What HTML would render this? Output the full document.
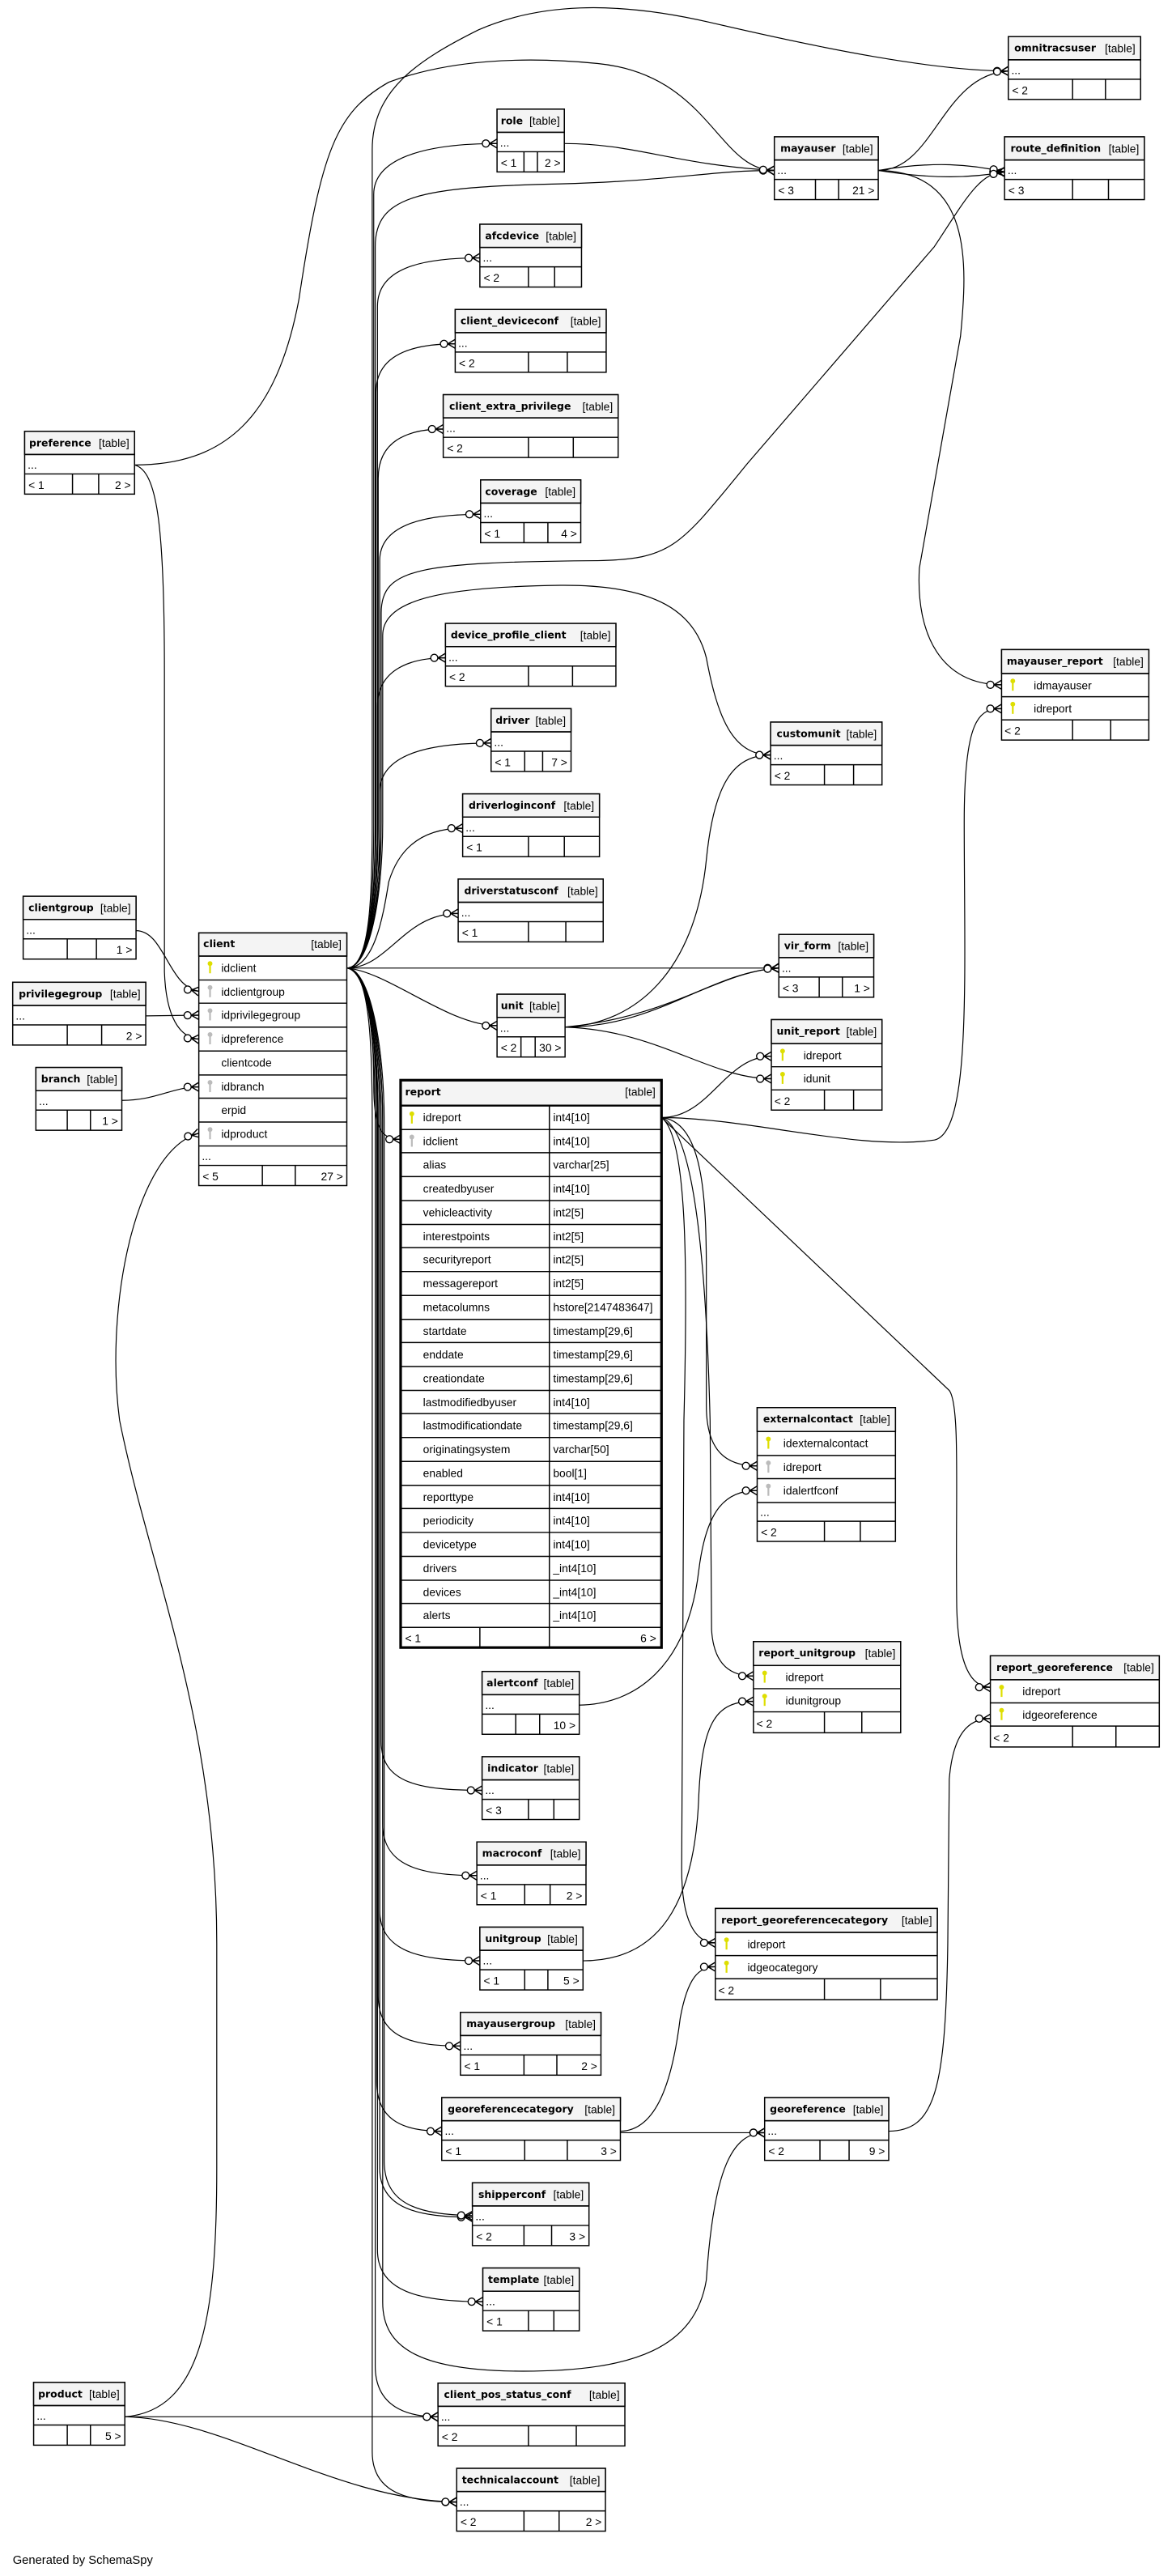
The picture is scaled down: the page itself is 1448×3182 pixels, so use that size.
<!DOCTYPE html>
<html><head><meta charset="utf-8"><style>
html,body{margin:0;padding:0;background:#fff}
svg{display:block}
.t{fill:#fff;stroke:#000;stroke-width:1.6}
.tk{fill:#fff;stroke:#000;stroke-width:3.5}
.h{fill:#f4f4f4;stroke:#000;stroke-width:1.6}
.l{stroke:#000;stroke-width:1.6;fill:none}
.c path{fill:none;stroke:#000;stroke-width:1.3}
text{font-family:"Liberation Sans",sans-serif;font-size:15px;fill:#000}
.n{font-family:"DejaVu Sans","Liberation Sans",sans-serif;font-weight:bold;font-size:13.5px}
.e{text-anchor:end}
</style></head><body>
<svg width="1448" height="3182" viewBox="0 0 1568 3446" preserveAspectRatio="none" xmlns="http://www.w3.org/2000/svg">
<defs>
<marker id="m" markerUnits="userSpaceOnUse" markerWidth="30" markerHeight="20" viewBox="-22 -10 24 20" refX="0" refY="0" orient="auto">
<path d="M-10,0 L0,-6 M-10,0 L0,0 M-10,0 L0,6" stroke="#000" stroke-width="1.6" fill="none"/>
<circle cx="-15" cy="0" r="4.8" fill="#fff" stroke="#000" stroke-width="1.5"/>
</marker>
<g id="kp"><circle cx="0" cy="-5" r="3.2" fill="#dede00"/><rect x="-1.2" y="-3" width="2.4" height="11" fill="#dede00"/></g>
<g id="kf"><circle cx="0" cy="-5" r="3.2" fill="#bbb"/><rect x="-1.2" y="-3" width="2.4" height="11" fill="#bbb"/></g>
</defs>

<g class="c" marker-end="url(#m)">
<!-- client trunk upward -->
<path d="M464,1295 C495,1295 498,1200 498,1100 L498,200 C498,120 560,80 640,40 C720,5 820,0 950,30 C1100,65 1250,95 1349,95"/>
<path d="M464,1295 C495,1295 500,1200 500,1100 L500,260 C500,215 560,192 665,192"/>
<path d="M464,1295 C495,1295 502,1200 502,1100 L502,330 C502,262 560,250 750,246 C900,242 950,228 1036,228"/>
<path d="M464,1295 C495,1295 505,1200 505,1100 L505,410 C505,360 560,345 642,345"/>
<path d="M464,1295 C495,1295 503,1200 503,1100 L503,525 C503,475 550,460 609,460"/>
<path d="M464,1295 C495,1295 506,1200 506,1100 L506,640 C506,590 545,574 593,574"/>
<path d="M464,1295 C495,1295 508,1200 508,1100 L508,750 C508,705 560,688 643,688"/>
<path d="M464,1295 C495,1295 510,1200 510,1100 L510,820 C510,760 560,752 800,750 C900,748 910,730 1000,620 L1250,330 C1290,270 1310,230 1344,230"/>
<path d="M464,1295 C495,1295 512,1200 512,1100 L512,850 C512,800 600,785 750,783 C880,782 930,820 945,880 C960,960 980,1010 1031,1010"/>
<path d="M464,1295 C495,1295 505,1200 505,1100 L505,945 C505,895 550,880 596,880"/>
<path d="M464,1295 C495,1295 508,1200 508,1150 L508,1060 C508,1010 570,994 657,994"/>
<path d="M464,1295 C500,1295 512,1230 520,1180 C535,1130 570,1108 619,1108"/>
<path d="M464,1295 C520,1295 540,1222 613,1222"/>
<path d="M464,1295 L1042,1295"/>
<path d="M464,1295 C520,1300 600,1372 665,1372"/>
<path d="M464,1295 C495,1300 500,1400 500,1450 C500,1510 510,1524 536,1524"/>
<!-- client trunk downward -->
<path d="M464,1295 C495,1295 510,1400 510,1500 L510,2330 C510,2385 560,2395 645,2395"/>
<path d="M464,1295 C495,1295 512,1400 512,1500 L512,2440 C512,2495 560,2509 638,2509"/>
<path d="M464,1295 C495,1295 508,1400 508,1500 L508,2555 C508,2610 560,2623 642,2623"/>
<path d="M464,1295 C495,1295 506,1400 506,1500 L506,2670 C506,2725 550,2737 616,2737"/>
<path d="M464,1295 C495,1295 504,1400 504,1500 L504,2785 C504,2840 545,2851 591,2851"/>
<path d="M464,1295 C495,1295 508,1400 508,1500 L508,2900 C508,2955 560,2966 632,2966"/>
<path d="M464,1295 C495,1295 514,1400 514,1500 L514,2890 C514,2950 560,2962 632,2964"/>
<path d="M464,1295 C495,1295 505,1400 505,1500 L505,3010 C505,3065 560,3079 646,3079"/>
<path d="M464,1295 C495,1295 512,1400 512,1500 L512,3080 C512,3140 560,3172 700,3172 C850,3172 930,3140 945,3050 C955,2900 980,2853 1023,2853"/>
<path d="M464,1295 C495,1295 502,1400 502,1500 L502,3165 C502,3220 545,3233 586,3233"/>
<path d="M464,1295 C495,1295 498,1400 498,1500 L498,3280 C498,3335 545,3347 611,3347"/>
<!-- others -->
<path d="M180,622 C300,622 370,560 400,400 C430,200 450,150 520,110 C600,80 700,75 800,85 C950,100 960,228 1036,228"/>
<path d="M180,622 C210,630 220,700 220,900 L220,1300 C222,1360 240,1388 266,1390"/>
<path d="M755,192 C850,192 900,220 1036,228"/>
<path d="M1175,228 C1250,228 1260,100 1349,95"/>
<path d="M1175,228 C1250,215 1300,220 1344,230"/>
<path d="M1175,228 C1250,240 1300,238 1344,230"/>
<path d="M1175,228 C1300,230 1295,350 1285,450 L1230,760 C1225,850 1260,916 1340,916"/>
<path d="M756,1374 C850,1370 930,1300 945,1150 C955,1050 980,1010 1031,1010"/>
<path d="M756,1374 C880,1374 950,1300 1042,1295"/>
<path d="M756,1374 C900,1360 960,1300 1042,1295"/>
<path d="M756,1374 C880,1378 950,1443 1032,1443"/>
<path d="M885,1495 C950,1495 970,1413 1032,1413"/>
<path d="M885,1495 C1000,1495 1150,1540 1250,1525 C1300,1515 1290,1300 1290,1100 C1290,960 1310,948 1340,948"/>
<path d="M885,1495 C940,1500 945,1600 945,1700 L945,1880 C945,1940 970,1961 1013,1961"/>
<path d="M885,1495 C930,1510 945,1700 950,1900 L952,2180 C955,2230 980,2242 1008,2242"/>
<path d="M885,1495 C920,1520 920,1700 915,1900 L912,2500 C912,2570 930,2599 957,2599"/>
<path d="M885,1495 L1270,1860 C1285,1880 1278,2000 1280,2150 C1282,2230 1300,2257 1325,2257"/>
<path d="M775,2281 C850,2280 920,2230 935,2100 C945,2020 970,1994 1013,1994"/>
<path d="M780,2623 C880,2623 930,2550 935,2400 C940,2300 960,2276 1008,2276"/>
<path d="M830,2851 C880,2850 900,2780 910,2700 C920,2645 935,2631 957,2631"/>
<path d="M830,2853 L1023,2853"/>
<path d="M1189,2851 C1250,2850 1265,2800 1268,2600 L1270,2380 C1275,2320 1295,2299 1325,2299"/>
<path d="M167,3233 C270,3225 290,3100 290,2900 L290,2600 C290,2300 200,2100 160,1900 C140,1750 180,1540 266,1516"/>
<path d="M167,3233 L586,3233"/>
<path d="M167,3233 C300,3235 450,3345 611,3347"/>
<path d="M182,1245 C220,1245 225,1320 266,1326"/>
<path d="M195,1359 L266,1358"/>
<path d="M163,1472 C210,1472 230,1454 266,1454"/>
</g>

<!-- small tables -->
<g>
<rect class="t" x="1349" y="49" width="177" height="84"/><rect class="h" x="1349" y="49" width="177" height="31"/><path class="l" d="M1349,80H1526M1349,106H1526M1435,106V133M1479,106V133"/><text class="n" x="1357" y="69">omnitracsuser</text><text class="e" x="1519" y="70">[table]</text><text x="1353" y="99">...</text><text x="1354" y="126">&lt; 2</text>

<rect class="t" x="1036" y="183" width="139" height="84"/><rect class="h" x="1036" y="183" width="139" height="31"/><path class="l" d="M1036,214H1175M1036,240H1175M1091,240V267M1122,240V267"/><text class="n" x="1044" y="203">mayauser</text><text class="e" x="1168" y="204">[table]</text><text x="1040" y="233">...</text><text x="1041" y="260">&lt; 3</text><text class="e" x="1170" y="260">21 &gt;</text>

<rect class="t" x="1344" y="183" width="187" height="84"/><rect class="h" x="1344" y="183" width="187" height="31"/><path class="l" d="M1344,214H1531M1344,240H1531M1435,240V267M1483,240V267"/><text class="n" x="1352" y="203">route_definition</text><text class="e" x="1524" y="204">[table]</text><text x="1348" y="233">...</text><text x="1349" y="260">&lt; 3</text>

<rect class="t" x="665" y="146" width="90" height="84"/><rect class="h" x="665" y="146" width="90" height="31"/><path class="l" d="M665,177H755M665,203H755M701,203V230M719,203V230"/><text class="n" x="670" y="166">role</text><text class="e" x="749" y="167">[table]</text><text x="669" y="196">...</text><text x="670" y="223">&lt; 1</text><text class="e" x="750" y="223">2 &gt;</text>

<rect class="t" x="642" y="300" width="136" height="84"/><rect class="h" x="642" y="300" width="136" height="31"/><path class="l" d="M642,331H778M642,357H778M707,357V384M742,357V384"/><text class="n" x="649" y="320">afcdevice</text><text class="e" x="771" y="321">[table]</text><text x="646" y="350">...</text><text x="647" y="377">&lt; 2</text>

<rect class="t" x="609" y="414" width="202" height="84"/><rect class="h" x="609" y="414" width="202" height="31"/><path class="l" d="M609,445H811M609,471H811M707,471V498M759,471V498"/><text class="n" x="616" y="434">client_deviceconf</text><text class="e" x="804" y="435">[table]</text><text x="613" y="464">...</text><text x="614" y="491">&lt; 2</text>

<rect class="t" x="593" y="528" width="234" height="84"/><rect class="h" x="593" y="528" width="234" height="31"/><path class="l" d="M593,559H827M593,585H827M707,585V612M767,585V612"/><text class="n" x="601" y="548">client_extra_privilege</text><text class="e" x="820" y="549">[table]</text><text x="597" y="578">...</text><text x="598" y="605">&lt; 2</text>

<rect class="t" x="643" y="642" width="134" height="84"/><rect class="h" x="643" y="642" width="134" height="31"/><path class="l" d="M643,673H777M643,699H777M701,699V726M733,699V726"/><text class="n" x="649" y="662">coverage</text><text class="e" x="770" y="663">[table]</text><text x="647" y="692">...</text><text x="648" y="719">&lt; 1</text><text class="e" x="772" y="719">4 &gt;</text>

<rect class="t" x="596" y="834" width="228" height="84"/><rect class="h" x="596" y="834" width="228" height="31"/><path class="l" d="M596,865H824M596,891H824M707,891V918M766,891V918"/><text class="n" x="603" y="854">device_profile_client</text><text class="e" x="817" y="855">[table]</text><text x="600" y="884">...</text><text x="601" y="911">&lt; 2</text>

<rect class="t" x="657" y="948" width="107" height="84"/><rect class="h" x="657" y="948" width="107" height="31"/><path class="l" d="M657,979H764M657,1005H764M702,1005V1032M726,1005V1032"/><text class="n" x="663" y="968">driver</text><text class="e" x="757" y="969">[table]</text><text x="661" y="998">...</text><text x="662" y="1025">&lt; 1</text><text class="e" x="759" y="1025">7 &gt;</text>

<rect class="t" x="619" y="1062" width="183" height="84"/><rect class="h" x="619" y="1062" width="183" height="31"/><path class="l" d="M619,1093H802M619,1119H802M707,1119V1146M755,1119V1146"/><text class="n" x="627" y="1082">driverloginconf</text><text class="e" x="795" y="1083">[table]</text><text x="623" y="1112">...</text><text x="624" y="1139">&lt; 1</text>

<rect class="t" x="613" y="1176" width="194" height="84"/><rect class="h" x="613" y="1176" width="194" height="31"/><path class="l" d="M613,1207H807M613,1233H807M707,1233V1260M757,1233V1260"/><text class="n" x="621" y="1196">driverstatusconf</text><text class="e" x="800" y="1197">[table]</text><text x="617" y="1226">...</text><text x="618" y="1253">&lt; 1</text>

<rect class="t" x="33" y="577" width="147" height="84"/><rect class="h" x="33" y="577" width="147" height="31"/><path class="l" d="M33,608H180M33,634H180M97,634V661M132,634V661"/><text class="n" x="39" y="597">preference</text><text class="e" x="173" y="598">[table]</text><text x="37" y="627">...</text><text x="38" y="654">&lt; 1</text><text class="e" x="175" y="654">2 &gt;</text>

<rect class="t" x="31" y="1199" width="151" height="84"/><rect class="h" x="31" y="1199" width="151" height="31"/><path class="l" d="M31,1230H182M31,1256H182M90,1256V1283M129,1256V1283"/><text class="n" x="38" y="1219">clientgroup</text><text class="e" x="175" y="1220">[table]</text><text x="35" y="1249">...</text><text class="e" x="177" y="1276">1 &gt;</text>

<rect class="t" x="17" y="1314" width="178" height="84"/><rect class="h" x="17" y="1314" width="178" height="31"/><path class="l" d="M17,1345H195M17,1371H195M90,1371V1398M136,1371V1398"/><text class="n" x="25" y="1334">privilegegroup</text><text class="e" x="188" y="1335">[table]</text><text x="21" y="1364">...</text><text class="e" x="190" y="1391">2 &gt;</text>

<rect class="t" x="48" y="1428" width="115" height="84"/><rect class="h" x="48" y="1428" width="115" height="31"/><path class="l" d="M48,1459H163M48,1485H163M90,1485V1512M121,1485V1512"/><text class="n" x="55" y="1448">branch</text><text class="e" x="157" y="1449">[table]</text><text x="52" y="1478">...</text><text class="e" x="158" y="1505">1 &gt;</text>

<rect class="t" x="1031" y="966" width="149" height="84"/><rect class="h" x="1031" y="966" width="149" height="31"/><path class="l" d="M1031,997H1180M1031,1023H1180M1103,1023V1050M1142,1023V1050"/><text class="n" x="1039" y="986">customunit</text><text class="e" x="1173" y="987">[table]</text><text x="1035" y="1016">...</text><text x="1036" y="1043">&lt; 2</text>

<rect class="t" x="1042" y="1250" width="127" height="84"/><rect class="h" x="1042" y="1250" width="127" height="31"/><path class="l" d="M1042,1281H1169M1042,1307H1169M1096,1307V1334M1127,1307V1334"/><text class="n" x="1049" y="1270">vir_form</text><text class="e" x="1162" y="1271">[table]</text><text x="1046" y="1300">...</text><text x="1047" y="1327">&lt; 3</text><text class="e" x="1164" y="1327">1 &gt;</text>

<rect class="t" x="665" y="1330" width="91" height="84"/><rect class="h" x="665" y="1330" width="91" height="31"/><path class="l" d="M665,1361H756M665,1387H756M697,1387V1414M716,1387V1414"/><text class="n" x="670" y="1350">unit</text><text class="e" x="749" y="1351">[table]</text><text x="669" y="1380">...</text><text x="670" y="1407">&lt; 2</text><text class="e" x="751" y="1407">30 &gt;</text>

<rect class="t" x="645" y="2236" width="130" height="84"/><rect class="h" x="645" y="2236" width="130" height="31"/><path class="l" d="M645,2267H775M645,2293H775M690,2293V2320M722,2293V2320"/><text class="n" x="651" y="2256">alertconf</text><text class="e" x="768" y="2257">[table]</text><text x="649" y="2286">...</text><text class="e" x="770" y="2313">10 &gt;</text>

<rect class="t" x="645" y="2350" width="130" height="84"/><rect class="h" x="645" y="2350" width="130" height="31"/><path class="l" d="M645,2381H775M645,2407H775M707,2407V2434M741,2407V2434"/><text class="n" x="652" y="2370">indicator</text><text class="e" x="768" y="2371">[table]</text><text x="649" y="2400">...</text><text x="650" y="2427">&lt; 3</text>

<rect class="t" x="638" y="2464" width="146" height="84"/><rect class="h" x="638" y="2464" width="146" height="31"/><path class="l" d="M638,2495H784M638,2521H784M702,2521V2548M736,2521V2548"/><text class="n" x="645" y="2484">macroconf</text><text class="e" x="777" y="2485">[table]</text><text x="642" y="2514">...</text><text x="643" y="2541">&lt; 1</text><text class="e" x="779" y="2541">2 &gt;</text>

<rect class="t" x="642" y="2578" width="138" height="84"/><rect class="h" x="642" y="2578" width="138" height="31"/><path class="l" d="M642,2609H780M642,2635H780M702,2635V2662M733,2635V2662"/><text class="n" x="649" y="2598">unitgroup</text><text class="e" x="773" y="2599">[table]</text><text x="646" y="2628">...</text><text x="647" y="2655">&lt; 1</text><text class="e" x="775" y="2655">5 &gt;</text>

<rect class="t" x="616" y="2692" width="188" height="84"/><rect class="h" x="616" y="2692" width="188" height="31"/><path class="l" d="M616,2723H804M616,2749H804M701,2749V2776M745,2749V2776"/><text class="n" x="624" y="2712">mayausergroup</text><text class="e" x="797" y="2713">[table]</text><text x="620" y="2742">...</text><text x="621" y="2769">&lt; 1</text><text class="e" x="799" y="2769">2 &gt;</text>

<rect class="t" x="591" y="2806" width="239" height="84"/><rect class="h" x="591" y="2806" width="239" height="31"/><path class="l" d="M591,2837H830M591,2863H830M702,2863V2890M759,2863V2890"/><text class="n" x="599" y="2826">georeferencecategory</text><text class="e" x="823" y="2827">[table]</text><text x="595" y="2856">...</text><text x="596" y="2883">&lt; 1</text><text class="e" x="825" y="2883">3 &gt;</text>

<rect class="t" x="1023" y="2806" width="166" height="84"/><rect class="h" x="1023" y="2806" width="166" height="31"/><path class="l" d="M1023,2837H1189M1023,2863H1189M1097,2863V2890M1136,2863V2890"/><text class="n" x="1030" y="2826">georeference</text><text class="e" x="1182" y="2827">[table]</text><text x="1027" y="2856">...</text><text x="1028" y="2883">&lt; 2</text><text class="e" x="1184" y="2883">9 &gt;</text>

<rect class="t" x="632" y="2920" width="156" height="84"/><rect class="h" x="632" y="2920" width="156" height="31"/><path class="l" d="M632,2951H788M632,2977H788M701,2977V3004M738,2977V3004"/><text class="n" x="640" y="2940">shipperconf</text><text class="e" x="781" y="2941">[table]</text><text x="636" y="2970">...</text><text x="637" y="2997">&lt; 2</text><text class="e" x="783" y="2997">3 &gt;</text>

<rect class="t" x="646" y="3034" width="129" height="84"/><rect class="h" x="646" y="3034" width="129" height="31"/><path class="l" d="M646,3065H775M646,3091H775M707,3091V3118M741,3091V3118"/><text class="n" x="653" y="3054">template</text><text class="e" x="768" y="3055">[table]</text><text x="650" y="3084">...</text><text x="651" y="3111">&lt; 1</text>

<rect class="t" x="45" y="3187" width="122" height="84"/><rect class="h" x="45" y="3187" width="122" height="31"/><path class="l" d="M45,3218H167M45,3244H167M90,3244V3271M121,3244V3271"/><text class="n" x="51" y="3207">product</text><text class="e" x="160" y="3208">[table]</text><text x="49" y="3237">...</text><text class="e" x="162" y="3264">5 &gt;</text>

<rect class="t" x="586" y="3188" width="250" height="84"/><rect class="h" x="586" y="3188" width="250" height="31"/><path class="l" d="M586,3219H836M586,3245H836M707,3245V3272M771,3245V3272"/><text class="n" x="594" y="3208">client_pos_status_conf</text><text class="e" x="829" y="3209">[table]</text><text x="590" y="3238">...</text><text x="591" y="3265">&lt; 2</text>

<rect class="t" x="611" y="3302" width="199" height="84"/><rect class="h" x="611" y="3302" width="199" height="31"/><path class="l" d="M611,3333H810M611,3359H810M701,3359V3386M748,3359V3386"/><text class="n" x="618" y="3322">technicalaccount</text><text class="e" x="803" y="3323">[table]</text><text x="615" y="3352">...</text><text x="616" y="3379">&lt; 2</text><text class="e" x="805" y="3379">2 &gt;</text>
</g>

<!-- key tables -->
<g>
<!-- mayauser_report -->
<rect class="t" x="1340" y="869" width="197" height="121"/><rect class="h" x="1340" y="869" width="197" height="32"/>
<path class="l" d="M1340,901H1537M1340,932H1537M1340,963H1537M1435,963V990M1486,963V990"/>
<text class="n" x="1347" y="889">mayauser_report</text><text class="e" x="1530" y="890">[table]</text>
<use href="#kp" x="1355" y="916"/><text x="1383" y="922">idmayauser</text>
<use href="#kp" x="1355" y="947"/><text x="1383" y="953">idreport</text>
<text x="1344" y="983">&lt; 2</text>

<!-- unit_report -->
<rect class="t" x="1032" y="1364" width="148" height="121"/><rect class="h" x="1032" y="1364" width="148" height="32"/>
<path class="l" d="M1032,1396H1180M1032,1427H1180M1032,1458H1180M1103,1458V1485M1142,1458V1485"/>
<text class="n" x="1039" y="1384">unit_report</text><text class="e" x="1173" y="1385">[table]</text>
<use href="#kp" x="1047" y="1411"/><text x="1075" y="1417">idreport</text>
<use href="#kp" x="1047" y="1442"/><text x="1075" y="1448">idunit</text>
<text x="1036" y="1478">&lt; 2</text>

<!-- report_unitgroup -->
<rect class="t" x="1008" y="2196" width="197" height="122"/><rect class="h" x="1008" y="2196" width="197" height="32"/>
<path class="l" d="M1008,2228H1205M1008,2259H1205M1008,2290H1205M1103,2290V2318M1153,2290V2318"/>
<text class="n" x="1015" y="2216">report_unitgroup</text><text class="e" x="1198" y="2217">[table]</text>
<use href="#kp" x="1023" y="2243"/><text x="1051" y="2249">idreport</text>
<use href="#kp" x="1023" y="2274"/><text x="1051" y="2280">idunitgroup</text>
<text x="1012" y="2311">&lt; 2</text>

<!-- report_georeference -->
<rect class="t" x="1325" y="2215" width="226" height="122"/><rect class="h" x="1325" y="2215" width="226" height="32"/>
<path class="l" d="M1325,2247H1551M1325,2278H1551M1325,2309H1551M1435,2309V2337M1493,2309V2337"/>
<text class="n" x="1333" y="2235">report_georeference</text><text class="e" x="1544" y="2236">[table]</text>
<use href="#kp" x="1340" y="2262"/><text x="1368" y="2268">idreport</text>
<use href="#kp" x="1340" y="2293"/><text x="1368" y="2299">idgeoreference</text>
<text x="1329" y="2330">&lt; 2</text>

<!-- report_georeferencecategory -->
<rect class="t" x="957" y="2553" width="297" height="122"/><rect class="h" x="957" y="2553" width="297" height="32"/>
<path class="l" d="M957,2585H1254M957,2616H1254M957,2647H1254M1103,2647V2675M1178,2647V2675"/>
<text class="n" x="965" y="2573">report_georeferencecategory</text><text class="e" x="1247" y="2574">[table]</text>
<use href="#kp" x="972" y="2600"/><text x="1000" y="2606">idreport</text>
<use href="#kp" x="972" y="2631"/><text x="1000" y="2637">idgeocategory</text>
<text x="961" y="2668">&lt; 2</text>

<!-- externalcontact -->
<rect class="t" x="1013" y="1883" width="185" height="179"/><rect class="h" x="1013" y="1883" width="185" height="32"/>
<path class="l" d="M1013,1915H1198M1013,1947H1198M1013,1978H1198M1013,2010H1198M1013,2035H1198M1103,2035V2062M1151,2035V2062"/>
<text class="n" x="1021" y="1903">externalcontact</text><text class="e" x="1191" y="1904">[table]</text>
<use href="#kp" x="1028" y="1930"/><text x="1048" y="1936">idexternalcontact</text>
<use href="#kf" x="1028" y="1962"/><text x="1048" y="1968">idreport</text>
<use href="#kf" x="1028" y="1993"/><text x="1048" y="1999">idalertfconf</text>
<text x="1017" y="2028">...</text>
<text x="1018" y="2055">&lt; 2</text>

<!-- client -->
<rect class="t" x="266" y="1248" width="198" height="338"/><rect class="h" x="266" y="1248" width="198" height="31"/>
<path class="l" d="M266,1279H464M266,1311H464M266,1342H464M266,1374H464M266,1406H464M266,1438H464M266,1469H464M266,1501H464M266,1533H464M266,1559H464M351,1559V1586M395,1559V1586"/>
<text class="n" x="272" y="1267">client</text><text class="e" x="457" y="1268">[table]</text>
<use href="#kp" x="281" y="1294"/><text x="296" y="1300">idclient</text>
<use href="#kf" x="281" y="1326"/><text x="296" y="1332">idclientgroup</text>
<use href="#kf" x="281" y="1357"/><text x="296" y="1363">idprivilegegroup</text>
<use href="#kf" x="281" y="1389"/><text x="296" y="1395">idpreference</text>
<text x="296" y="1427">clientcode</text>
<use href="#kf" x="281" y="1453"/><text x="296" y="1459">idbranch</text>
<text x="296" y="1490">erpid</text>
<use href="#kf" x="281" y="1516"/><text x="296" y="1522">idproduct</text>
<text x="270" y="1552">...</text>
<text x="271" y="1579">&lt; 5</text><text class="e" x="459" y="1579">27 &gt;</text>

<!-- report -->
<rect class="tk" x="536" y="1445" width="349" height="759"/><rect class="h" x="538" y="1447" width="345" height="32" style="stroke:none"/>
<path class="l" d="M536,1479H885M536,1511H885M536,1542H885M536,1574H885M536,1606H885M536,1638H885M536,1669H885M536,1701H885M536,1733H885M536,1765H885M536,1796H885M536,1828H885M536,1860H885M536,1891H885M536,1923H885M536,1955H885M536,1987H885M536,2018H885M536,2050H885M536,2082H885M536,2114H885M536,2145H885M536,2177H885M735,1479V2177M642,2177V2204M735,2177V2204"/>
<path d="M536,1479H885" stroke="#000" stroke-width="2.5"/>
<text class="n" x="542" y="1465">report</text><text class="e" x="877" y="1466">[table]</text>
<use href="#kp" x="551" y="1495"/><text x="566" y="1500">idreport</text><text x="740" y="1500">int4[10]</text>
<use href="#kf" x="551" y="1526"/><text x="566" y="1532">idclient</text><text x="740" y="1532">int4[10]</text>
<text x="566" y="1563">alias</text><text x="740" y="1563">varchar[25]</text>
<text x="566" y="1595">createdbyuser</text><text x="740" y="1595">int4[10]</text>
<text x="566" y="1627">vehicleactivity</text><text x="740" y="1627">int2[5]</text>
<text x="566" y="1659">interestpoints</text><text x="740" y="1659">int2[5]</text>
<text x="566" y="1690">securityreport</text><text x="740" y="1690">int2[5]</text>
<text x="566" y="1722">messagereport</text><text x="740" y="1722">int2[5]</text>
<text x="566" y="1754">metacolumns</text><text x="740" y="1754">hstore[2147483647]</text>
<text x="566" y="1786">startdate</text><text x="740" y="1786">timestamp[29,6]</text>
<text x="566" y="1817">enddate</text><text x="740" y="1817">timestamp[29,6]</text>
<text x="566" y="1849">creationdate</text><text x="740" y="1849">timestamp[29,6]</text>
<text x="566" y="1881">lastmodifiedbyuser</text><text x="740" y="1881">int4[10]</text>
<text x="566" y="1912">lastmodificationdate</text><text x="740" y="1912">timestamp[29,6]</text>
<text x="566" y="1944">originatingsystem</text><text x="740" y="1944">varchar[50]</text>
<text x="566" y="1976">enabled</text><text x="740" y="1976">bool[1]</text>
<text x="566" y="2008">reporttype</text><text x="740" y="2008">int4[10]</text>
<text x="566" y="2039">periodicity</text><text x="740" y="2039">int4[10]</text>
<text x="566" y="2071">devicetype</text><text x="740" y="2071">int4[10]</text>
<text x="566" y="2103">drivers</text><text x="740" y="2103">_int4[10]</text>
<text x="566" y="2135">devices</text><text x="740" y="2135">_int4[10]</text>
<text x="566" y="2166">alerts</text><text x="740" y="2166">_int4[10]</text>
<text x="542" y="2197">&lt; 1</text><text class="e" x="878" y="2197">6 &gt;</text>
</g>

<text x="17" y="3430" style="font-size:16px">Generated by SchemaSpy</text>
</svg>
</body></html>
